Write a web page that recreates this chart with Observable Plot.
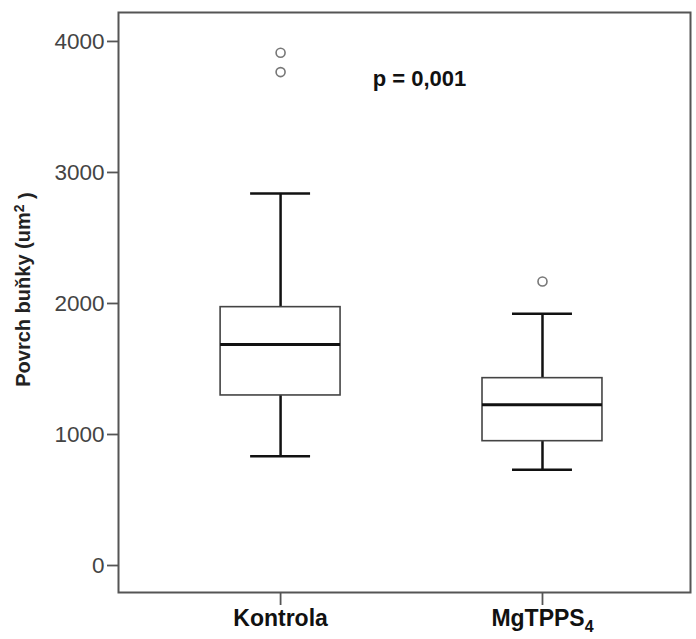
<!DOCTYPE html>
<html><head><meta charset="utf-8">
<script src="https://cdn.jsdelivr.net/npm/d3@7"></script>
<script src="https://cdn.jsdelivr.net/npm/@observablehq/plot@0.6"></script>
<style>
body{margin:0;background:#fff}
#chart svg{display:block}
</style>
</head><body><div id="chart"></div>
<script>
const categories = ["Kontrola", "MgTPPS4"];
const whiskerLow = [834, 730];
const q1 = [1298, 949];
const median = [1687, 1227];
const q3 = [1972, 1430];
const whiskerHigh = [2840, 1921];
const outlierGroup = ["Kontrola", "Kontrola", "MgTPPS4"];
const outlierValue = [3914, 3766, 2168];
const yTicks = [0, 1000, 2000, 3000, 4000];
const yLabel = "Povrch buňky (um² )";
const pLabel = "p = 0,001";

const boxes = categories.map((c, i) => ({cat: c, lo: whiskerLow[i], q1: q1[i], med: median[i], q3: q3[i], hi: whiskerHigh[i]}));
const outliers = outlierGroup.map((c, i) => ({cat: c, v: outlierValue[i]}));

const font = "'Liberation Sans', Arial, sans-serif";

const chart = Plot.plot({
  width: 696,
  height: 639,
  marginLeft: 118,
  marginRight: 6,
  marginTop: 12,
  marginBottom: 47,
  style: {fontFamily: font, background: "#fff"},
  x: {type: "band", domain: categories, paddingInner: 0.542, paddingOuter: 0.363, align: 0.537, round: false, label: null},
  y: {domain: [-206, 4221], label: null},
  marks: [
    Plot.ruleX(boxes, {x: "cat", y1: "lo", y2: "q1", stroke: "#111", strokeWidth: 2.5}),
    Plot.ruleX(boxes, {x: "cat", y1: "q3", y2: "hi", stroke: "#111", strokeWidth: 2.5}),
    Plot.tickY(boxes, {x: "cat", y: "lo", inset: 30, stroke: "#111", strokeWidth: 2.5}),
    Plot.tickY(boxes, {x: "cat", y: "hi", inset: 30, stroke: "#111", strokeWidth: 2.5}),
    Plot.barY(boxes, {x: "cat", y1: "q1", y2: "q3", fill: "white", stroke: "#444", strokeWidth: 1.6}),
    Plot.tickY(boxes, {x: "cat", y: "med", stroke: "#111", strokeWidth: 3}),
    Plot.dot(outliers, {x: "cat", y: "v", r: 4.5, stroke: "#777", strokeWidth: 1.6, fill: "white"}),
    Plot.text([pLabel], {frameAnchor: "top", text: d => d, dx: 15, dy: 66, fontSize: 22, fontWeight: "bold", fill: "#111", lineAnchor: "middle"}),
    Plot.text([yLabel], {frameAnchor: "left", text: d => d, dx: -95, dy: -13, rotate: -90, fontSize: 20, fontWeight: "bold", fill: "#222", textAnchor: "middle", lineAnchor: "middle"}),
    Plot.axisY({ticks: yTicks, tickFormat: d => String(d), tickSize: 11, tickPadding: 3, fontSize: 22.5, fill: "#444", stroke: "#555", strokeWidth: 1.8, label: null}),
    Plot.axisX({tickSize: 13, tickPadding: 4, fontSize: 23, fontWeight: "bold", fill: "#111", stroke: "#555", strokeWidth: 1.8, label: null}),
    Plot.frame({stroke: "#555", strokeWidth: 2})
  ]
});
document.getElementById("chart").appendChild(chart);

d3.select(chart).selectAll("text").each(function() {
  const t = d3.select(this);
  if (t.text() === "MgTPPS4") {
    t.text("MgTPPS");
    t.append("tspan").attr("dy", "0.4em").attr("font-size", 16).text("4");
  }
  if (t.text() === yLabel) {
    t.text("Povrch buňky (um");
    t.append("tspan").attr("dy", "-0.45em").attr("font-size", 14).text("2");
    t.append("tspan").attr("dy", "0.45em").text(" )");
  }
});
</script>
</body></html>
